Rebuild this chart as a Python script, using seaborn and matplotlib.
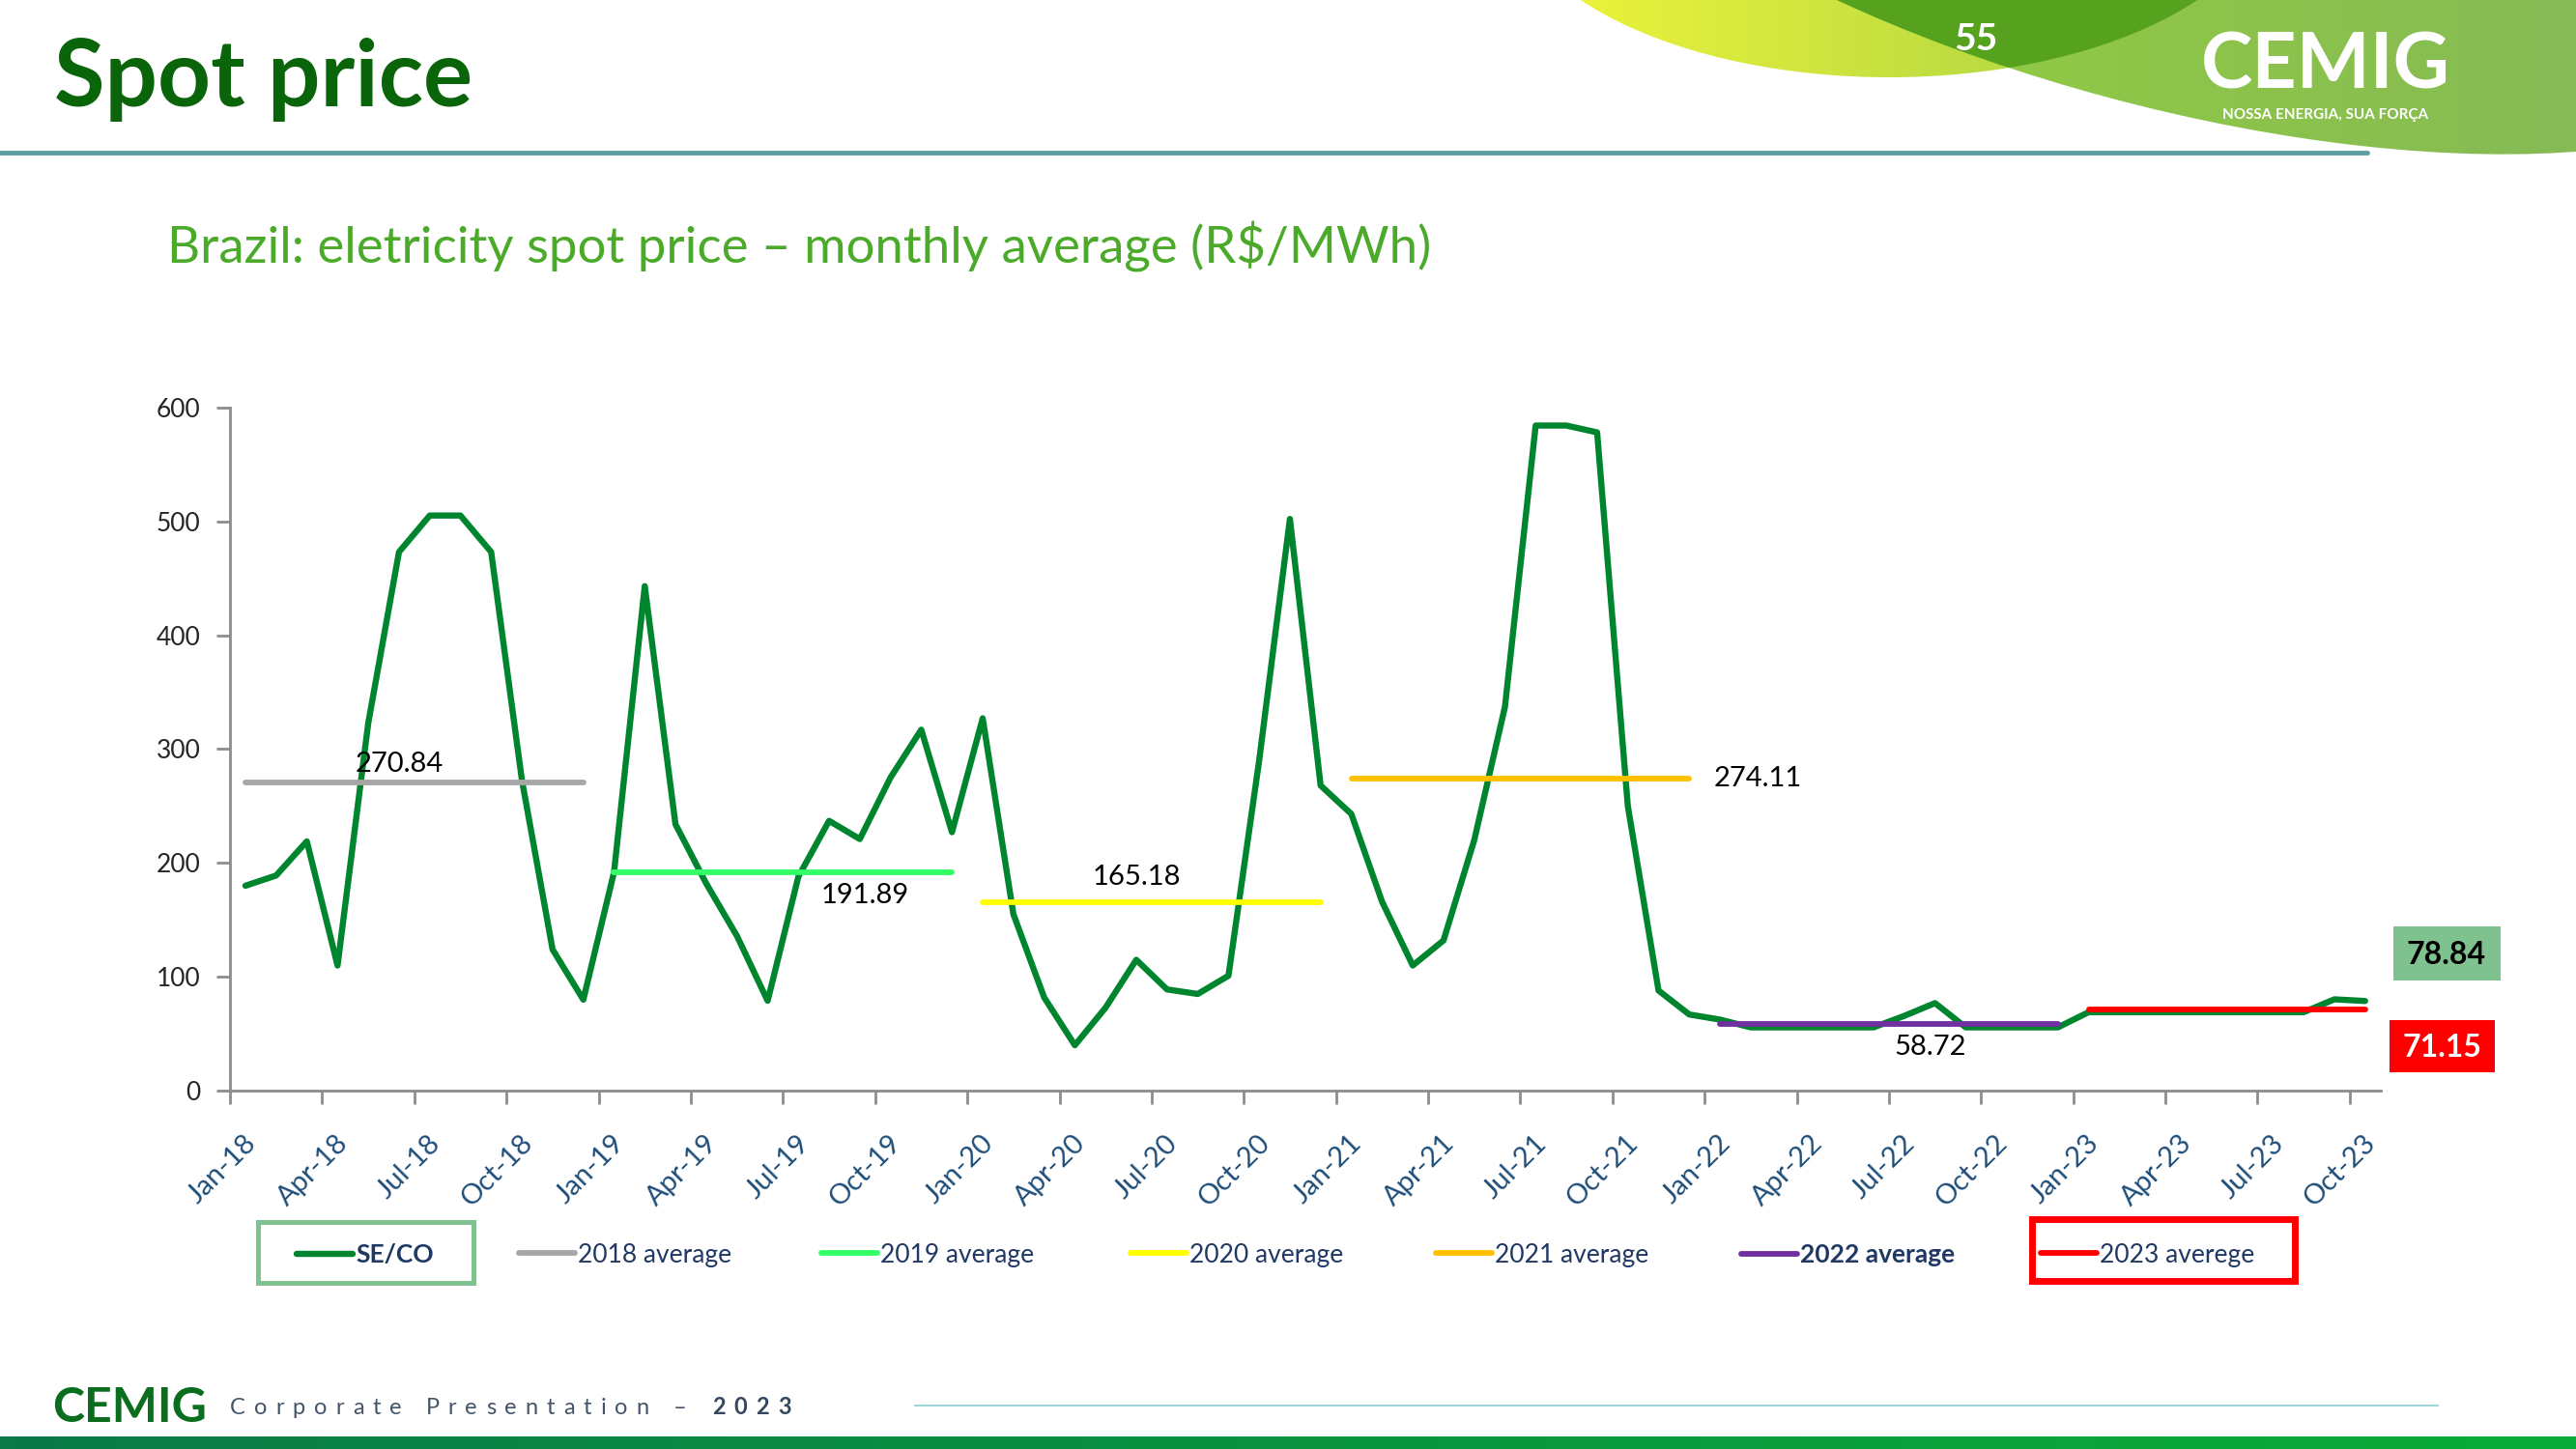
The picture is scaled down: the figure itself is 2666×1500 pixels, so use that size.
import matplotlib
matplotlib.use("Agg")
import matplotlib.pyplot as plt
from matplotlib.patches import Rectangle, Ellipse
from matplotlib.colors import LinearSegmentedColormap
from matplotlib.transforms import ScaledTranslation
import numpy as np
import pandas as pd
import seaborn as sns

# SE/CO monthly spot price (R$/MWh), Jan-18 .. Oct-23
months = pd.date_range("2018-01-01", "2023-10-01", freq="MS")
seco = [180, 189, 219, 110, 323, 473, 505, 505, 473, 273, 124, 80,        # 2018
        192, 443, 234, 182, 136, 79, 188, 237, 221, 275, 317, 227,        # 2019
        327, 155, 82, 40, 73, 115, 89, 85, 101, 290, 502, 268,            # 2020
        243, 166, 110, 132, 220, 337, 584, 584, 578, 250, 88, 67,         # 2021
        62.5, 55.7, 55.7, 55.7, 55.7, 55.7, 65.8, 77, 55.7, 55.7, 55.7, 55.7,   # 2022
        69.04, 69.04, 69.04, 69.04, 69.04, 69.04, 69.04, 69.04, 80.3, 78.84]    # 2023

years = [2018, 2019, 2020, 2021, 2022, 2023]
year_avg = [270.84, 191.89, 165.18, 274.11, 58.72, 71.15]
avg_names = ["2018 average", "2019 average", "2020 average",
             "2021 average", "2022 average", "2023 averege"]
avg_colors = ["#A6A6A6", "#33FF66", "#FFFF00", "#FFC000", "#7030A0", "#FF0000"]

# where the data label of each average sits (month index, side)
avg_label_month = [5, 20, 29, 47, 55]
avg_label_side = ["above", "below", "above", "right", "below"]

sns.set_theme(style="white")
plt.rcParams["font.family"] = ["Lato", "DejaVu Sans"]

df = pd.DataFrame({"month": months, "price": seco})
df["i"] = np.arange(len(df))
df["year"] = df["month"].dt.year

avg_df = df[["i", "year"]].copy()
avg_df["avg"] = avg_df["year"].map(dict(zip(years, year_avg)))
avg_df["serie"] = avg_df["year"].map(dict(zip(years, avg_names)))

fig = plt.figure(figsize=(26.66, 15), dpi=100)

# background layer in pixel coords (y down)
bg = fig.add_axes([0, 0, 1, 1], zorder=0)
bg.axis("off")
bg.set_xlim(0, 2666)
bg.set_ylim(1500, 0)

ax = fig.add_axes([0.0893, 0.2472, 0.8348, 0.4717], zorder=2)
ax.patch.set_alpha(0)

sns.lineplot(data=df, x="i", y="price", color="#00852F", lw=4.6,
             solid_capstyle="round", ax=ax, legend=False)
sns.lineplot(data=avg_df, x="i", y="avg", hue="serie", hue_order=avg_names,
             palette=avg_colors, lw=4.2, solid_capstyle="round", ax=ax, legend=False)

ax.set_xlim(-0.5, 69.5)
ax.set_ylim(0, 600)
ax.set_xlabel("")
ax.set_ylabel("")
ax.set_yticks(range(0, 601, 100))
ax.set_xticks(np.arange(0, 70, 3))
ax.set_xticklabels(months[::3].strftime("%b-%y"), rotation=45, ha="right",
                   va="center", rotation_mode="anchor")
ax.set_xticks(np.arange(-0.5, 69, 3), minor=True)
ax.tick_params(axis="x", which="major", length=0, pad=30, labelsize=21,
               labelcolor="#1F4E79")
ax.tick_params(axis="x", which="minor", bottom=True, length=10, width=2,
               color="#8C8C8C", direction="out")
ax.tick_params(axis="y", left=True, length=10, width=2, color="#8C8C8C",
               labelsize=19, pad=12, direction="out")
shift = ScaledTranslation(5 / 72, -6 / 72, fig.dpi_scale_trans)
for lbl in ax.get_xticklabels():
    lbl.set_transform(lbl.get_transform() + shift)
sns.despine(ax=ax)
for s in ["left", "bottom"]:
    ax.spines[s].set_color("#8C8C8C")
    ax.spines[s].set_linewidth(2)

# average labels
for k, (idx, val, side) in enumerate(zip(avg_label_month, year_avg, avg_label_side)):
    if side == "above":
        off, ha, va = (0, 4 if k == 0 else 10), "center", "bottom"
    elif side == "below":
        off, ha, va = (4 if k == 1 else -4, -8), "center", "top"
    else:
        off, ha, va = (18, 0), "left", "center"
    ax.annotate(f"{val:.2f}", xy=(idx, val), xytext=off, textcoords="offset points",
                ha=ha, va=va, fontsize=21, color="black")

# legend, one entry per slot like the original
lines = ax.get_lines()
leg_labels = ["SE/CO"] + avg_names
leg_x = [294, 524, 837, 1157, 1473, 1789, 2099]
for h, lab, x in zip(lines, leg_labels, leg_x):
    leg = fig.legend([h], [lab], loc="center left",
                     bbox_to_anchor=(x / 2666, 1 - 1299 / 1500), frameon=False,
                     borderpad=0, handlelength=2.2, handletextpad=0.12,
                     fontsize=19, labelcolor="#1F3864")
    if lab in ("SE/CO", "2022 average"):
        leg.get_texts()[0].set_fontweight("bold")

bg.add_patch(Rectangle((267, 1265), 223, 63, fill=False, ec="#7FC28F", lw=3.6))
bg.add_patch(Rectangle((2103, 1262), 272, 64, fill=False, ec="#FF0000", lw=5))

# last value / 2023 average boxes
bg.add_patch(Rectangle((2477, 959), 111, 56, fc="#80C28F", ec="none"))
bg.text(2532, 988, f"{seco[-1]:.2f}", ha="center", va="center", fontsize=23,
        weight="bold", color="black")
bg.add_patch(Rectangle((2473, 1056), 109, 54, fc="#FF0000", ec="none"))
bg.text(2527, 1084, f"{year_avg[-1]:.2f}", ha="center", va="center", fontsize=23,
        weight="bold", color="white")

# header
bg.text(56, 110, "Spot price", fontsize=69, weight="bold", color="#0A640A",
        va="baseline")
bg.text(173, 272, "Brazil: eletricity spot price \u2013 monthly average (R$/MWh)",
        fontsize=38, color="#4CAA2A", va="baseline")
bg.plot([0, 2450], [158, 158], color="#5F9EA0", lw=3.5)

grad = np.linspace(0, 1, 256).reshape(1, -1)
ell_y = Ellipse((1955, -120), 798, 400, fc="none", ec="none")
bg.add_patch(ell_y)
im = bg.imshow(grad, extent=(1550, 2360, 300, -130), aspect="auto", zorder=1,
               cmap=LinearSegmentedColormap.from_list("yg", ["#F4F73A", "#9ACB46"]))
im.set_clip_path(ell_y)
ell_g = Ellipse((2250, -150), 1400, 520, angle=15, fc="none", ec="none")
bg.add_patch(ell_g)
im2 = bg.imshow(grad, extent=(1800, 2666, 300, -130), aspect="auto", zorder=2,
                cmap=LinearSegmentedColormap.from_list("g", ["#95D03E", "#86BA55"]))
im2.set_clip_path(ell_g)
lens = Ellipse((1955, -120), 798, 400, fc="#56A21E", ec="none", zorder=3)
bg.add_patch(lens)
lens.set_clip_path(ell_g)
bg.text(2045, 40, "55", fontsize=28, weight="bold", color="white",
        ha="center", va="center", zorder=4)
bg.text(2407, 68, "CEMIG", fontsize=58, weight="bold", color="white",
        ha="center", va="center", zorder=4)
bg.text(2407, 119, "NOSSA ENERGIA, SUA FORÇA", fontsize=11, weight="bold",
        color="white", ha="center", va="center", zorder=4)

# footer
bg.text(54, 1457, "CEMIG", fontsize=36, weight="bold", color="#0B6E1F", va="center")

renderer = fig.canvas.get_renderer()


def tracked(x, y, s, track, **kw):
    # letter-spaced text, one glyph at a time
    for ch in s:
        if ch == " ":
            x += 7 + track
            continue
        t = bg.text(x, y, ch, va="center", ha="left", **kw)
        x += t.get_window_extent(renderer).width + track
    return x


tracked(238, 1457, "Corporate Presentation", 9, fontsize=17, color="#44546A")
tracked(697, 1457, "\u2013", 0, fontsize=17, color="#44546A")
tracked(737, 1457, "2023", 9, fontsize=17, weight="bold", color="#33475F")
bg.plot([947, 2523], [1455, 1455], color="#9ED3D8", lw=1.5)
bg.imshow(grad, extent=(0, 2666, 1500, 1487), aspect="auto", zorder=1,
          cmap=LinearSegmentedColormap.from_list("b", ["#0A7A48", "#09AC38"]))

bg.set_xlim(0, 2666)
bg.set_ylim(1500, 0)

fig.savefig("out.png", dpi=100)
